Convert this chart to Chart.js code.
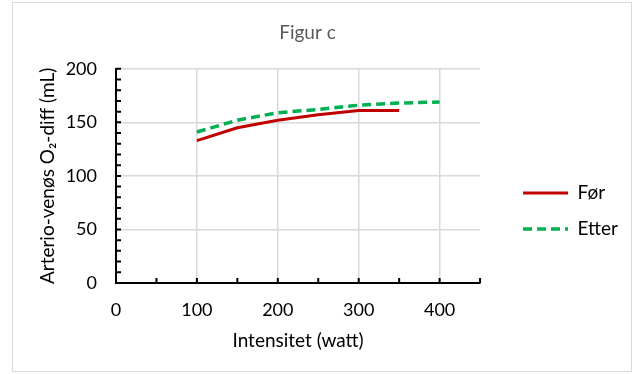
<!DOCTYPE html>
<html>
<head>
<meta charset="utf-8">
<script src="https://cdn.jsdelivr.net/npm/chart.js@4"></script>
<style>
    body { margin: 0; background: #fff; }
    #wrap {
        position: absolute; left: 12px; top: 2px;
        width: 618px; height: 368px;
        border: 1px solid #d9d9d9;
    }
</style>
</head>
<body>
<div id="wrap"><canvas id="myChart" width="618" height="368"></canvas></div>
<script>
// Data
const watts = [100, 150, 200, 250, 300, 350, 400];
const forValues = [133, 145, 152, 157, 161, 161];
const etterValues = [141, 152, 159, 162, 166, 168, 169];
const seriesNames = ["Før", "Etter"];

const fontFamily = "Lato, 'Liberation Sans', sans-serif";

// small inside tick marks like in Excel
const tickMarks = {
    id: "tickMarks",
    afterDraw(chart) {
        const ctx = chart.ctx;
        const x = chart.scales.x;
        const y = chart.scales.y;
        ctx.save();
        ctx.strokeStyle = "#000";
        ctx.lineWidth = 2;
        ctx.beginPath();
        for (const t of x.ticks) {
            const px = x.getPixelForValue(t.value);
            ctx.moveTo(px, x.top);
            ctx.lineTo(px, x.top - 5);
        }
        for (const t of y.ticks) {
            const py = y.getPixelForValue(t.value);
            ctx.moveTo(y.right, py);
            ctx.lineTo(y.right + 5, py);
        }
        ctx.stroke();
        ctx.restore();
    }
};

// move the legend a bit away from the plot, like the Excel layout
const legendShift = {
    id: "legendShift",
    afterLayout(chart) {
        const lg = chart.legend;
        lg.left += 26;
        lg.right += 26;
        lg.top += 24;
        lg.bottom += 24;
    }
};

const ctx = document.getElementById("myChart").getContext("2d");
new Chart(ctx, {
    type: "line",
    data: {
        datasets: [
            {
                label: seriesNames[0],
                data: forValues.map((v, i) => ({ x: watts[i], y: v })),
                borderColor: "#c00000",
                backgroundColor: "#c00000",
                borderWidth: 3,
                pointRadius: 0,
                tension: 0
            },
            {
                label: seriesNames[1],
                data: etterValues.map((v, i) => ({ x: watts[i], y: v })),
                borderColor: "#00b050",
                backgroundColor: "#00b050",
                borderWidth: 3.5,
                borderDash: [9, 5],
                pointRadius: 0,
                tension: 0
            }
        ]
    },
    options: {
        responsive: false,
        animation: false,
        layout: { padding: { left: 0, right: 29, top: 0, bottom: 0 } },
        plugins: {
            title: {
                display: true,
                text: "Figur c",
                color: "#595959",
                font: { family: fontFamily, size: 19, weight: "normal" },
                padding: { top: 18, bottom: 25 }
            },
            legend: {
                position: "right",
                labels: {
                    usePointStyle: true,
                    pointStyle: "line",
                    pointStyleWidth: 45,
                    color: "#000",
                    padding: 17,
                    font: { family: fontFamily, size: 19 },
                    generateLabels(chart) {
                        const items = Chart.defaults.plugins.legend.labels.generateLabels(chart);
                        for (const item of items) {
                            const ds = chart.data.datasets[item.datasetIndex];
                            item.lineDash = ds.borderDash || [];
                            item.lineWidth = ds.borderWidth;
                            item.strokeStyle = ds.borderColor;
                        }
                        return items;
                    }
                }
            },
            tooltip: { enabled: false }
        },
        scales: {
            x: {
                type: "linear",
                min: 0,
                max: 450,
                afterFit(scale) { scale.height = 88; },
                ticks: {
                    stepSize: 50,
                    autoSkip: false,
                    padding: 16,
                    color: "#000",
                    maxRotation: 0,
                    font: { family: fontFamily, size: 18 },
                    callback: (v) => (v % 100 === 0 ? v : "")
                },
                grid: {
                    drawTicks: false,
                    color: (c) => (c.tick && c.tick.value % 100 === 0 && c.tick.value !== 0 ? "#d9d9d9" : "rgba(0,0,0,0)"),
                    lineWidth: 1.5
                },
                border: { color: "#000", width: 2 },
                title: {
                    display: true,
                    text: "Intensitet (watt)",
                    color: "#000",
                    font: { family: fontFamily, size: 19 },
                    padding: { top: 0, bottom: 19 }
                }
            },
            y: {
                min: 0,
                max: 200,
                afterFit(scale) { scale.width = 103; },
                ticks: {
                    stepSize: 10,
                    autoSkip: false,
                    padding: 19,
                    color: "#000",
                    font: { family: fontFamily, size: 18 },
                    callback: (v) => (v % 50 === 0 ? v : "")
                },
                grid: {
                    drawTicks: false,
                    color: (c) => (c.tick && c.tick.value % 50 === 0 && c.tick.value !== 0 ? "#d9d9d9" : "rgba(0,0,0,0)"),
                    lineWidth: 1.5
                },
                border: { color: "#000", width: 2 },
                title: {
                    display: true,
                    text: "Arterio-venøs O₂-diff (mL)",
                    color: "#000",
                    font: { family: fontFamily, size: 19 },
                    padding: { top: 23, bottom: 0 }
                }
            }
        }
    },
    plugins: [tickMarks, legendShift]
});
</script>
</body>
</html>
